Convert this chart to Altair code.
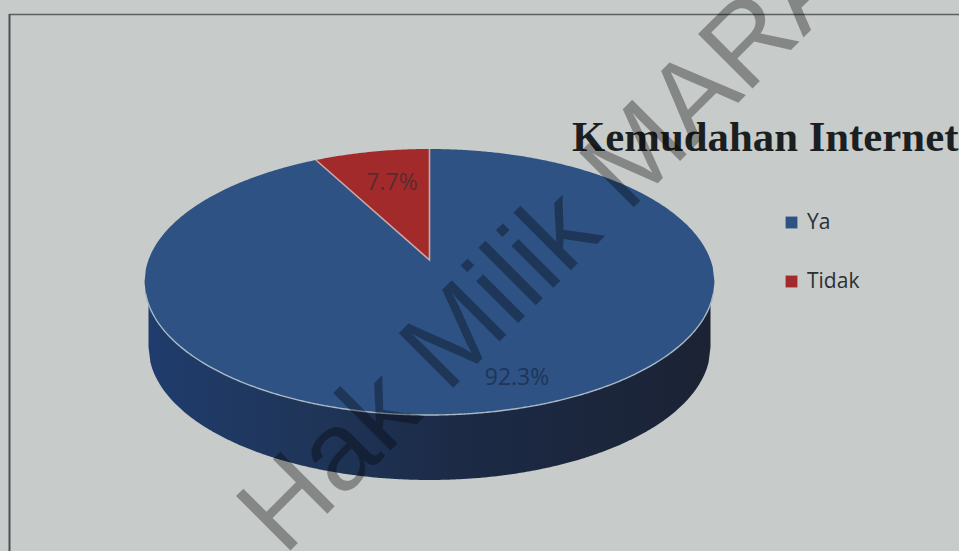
import math
import altair as alt
import numpy as np
import pandas as pd

# Survey result
categories = ["Ya", "Tidak"]
shares = [92.3, 7.7]
slice_colors = ["#2d5283", "#a32a2a"]
chart_title = "Kemudahan Internet"
watermark = "Hak Milik MARA"

W, H = 959, 551
# Top face of the tilted disc, in canvas units
CX, CY, A, B = 429.5, 282.0, 285.0, 133.0
APEX_Y = 260.0          # where the disc's centre lands under perspective
TILT = 0.17             # perspective strength
RADIUS_X = 281.0
# Lower rim of the disc
BOTTOM_CY, BOTTOM_A, BOTTOM_B = 347.0, 281.0, 133.0


def rim(x, cy, a, b, sign):
    return cy + sign * b * np.sqrt(np.clip(1 - ((x - CX) / a) ** 2, 0, 1))


# The red slice runs back from twelve o'clock by its share of the circle
theta = 2 * math.pi * shares[1] / 100
edge_x = CX - RADIUS_X * math.sin(theta) / (1 + TILT * math.cos(theta))
edge_y = float(rim(edge_x, CY, A, B, -1))

left_xs = np.linspace(CX - A, edge_x, 120)
mid_xs = np.linspace(edge_x, CX - 0.01, 10)
right_xs = np.linspace(CX, CX + A, 160)
wedge_xs = np.linspace(edge_x, CX, 40)
spoke = lambda x: edge_y + (APEX_Y - edge_y) * (x - edge_x) / (CX - edge_x)

ya = pd.concat([
    pd.DataFrame({"x": left_xs, "top": rim(left_xs, CY, A, B, -1), "bot": rim(left_xs, CY, A, B, 1)}),
    pd.DataFrame({"x": mid_xs, "top": spoke(mid_xs), "bot": rim(mid_xs, CY, A, B, 1)}),
    pd.DataFrame({"x": right_xs, "top": rim(right_xs, CY, A, B, -1), "bot": rim(right_xs, CY, A, B, 1)}),
]).assign(slice=categories[0])
tidak = pd.DataFrame({
    "x": wedge_xs, "top": rim(wedge_xs, CY, A, B, -1), "bot": spoke(wedge_xs),
}).assign(slice=categories[1])
faces = pd.concat([ya, tidak], ignore_index=True)

side_xs = np.linspace(CX - BOTTOM_A, CX + BOTTOM_A, 300)
side = pd.DataFrame({
    "x": side_xs, "top": CY, "bot": rim(side_xs, BOTTOM_CY, BOTTOM_A, BOTTOM_B, 1),
})

front_xs = np.linspace(CX - A + 1, CX + A - 1, 300)
front_rim = pd.DataFrame({"x": front_xs, "y": rim(front_xs, CY, A, B, 1)})
spokes = pd.DataFrame({
    "x": [edge_x, CX, CX], "y": [edge_y, APEX_Y, rim(CX, CY, A, B, -1)], "seq": [0, 1, 2],
})

x_scale = alt.Scale(domain=[0, W], range=[0, W], nice=False, zero=False)
y_scale = alt.Scale(domain=[0, H], range=[0, H], nice=False, zero=False)
X = alt.X("x:Q", scale=x_scale, axis=None)
Y = alt.Y("top:Q", scale=y_scale, axis=None, stack=None)

side_layer = alt.Chart(side).mark_area(
    color=alt.Gradient(
        gradient="linear", x1=0, x2=1, y1=0, y2=0,
        stops=[
            alt.GradientStop(offset=0, color="#1f3c6c"),
            alt.GradientStop(offset=0.3, color="#1f3558"),
            alt.GradientStop(offset=0.55, color="#1c2a46"),
            alt.GradientStop(offset=1, color="#1b2334"),
        ],
    )
).encode(x=X, y=Y, y2="bot:Q")

face_layer = alt.Chart(faces).mark_area().encode(
    x=X, y=Y, y2="bot:Q",
    color=alt.Color(
        "slice:N",
        scale=alt.Scale(domain=categories, range=slice_colors),
        legend=alt.Legend(
            title=None, orient="none", legendX=781, legendY=212,
            symbolType="square", symbolSize=140, symbolStrokeWidth=0,
            labelFont="Open Sans", labelFontSize=21, labelColor="#2a3034",
            labelOffset=5, rowPadding=37, padding=0,
        ),
    ),
)

rim_layer = alt.Chart(front_rim).mark_line(color="#a9bac6", strokeWidth=1.4).encode(
    x=X, y=alt.Y("y:Q", scale=y_scale, axis=None)
)
spoke_layer = alt.Chart(spokes).mark_line(color="#c9a9a9", strokeWidth=1.6).encode(
    x=X, y=alt.Y("y:Q", scale=y_scale, axis=None), order="seq:Q"
)

# Frame lines along the top and left
frame_top = alt.Chart(pd.DataFrame({"k": [0]})).mark_rule(color="#5a6063", strokeWidth=1.5).encode(
    x=alt.value(9), x2=alt.value(W), y=alt.value(14.5)
)
frame_left = alt.Chart(pd.DataFrame({"k": [0]})).mark_rule(color="#4a5054", strokeWidth=2).encode(
    x=alt.value(9.5), y=alt.value(14), y2=alt.value(H)
)


def text_layer(text, px, py, **style):
    return alt.Chart(pd.DataFrame({"t": [text]})).mark_text(**style).encode(
        x=alt.value(px), y=alt.value(py), text="t:N"
    )


title_layer = text_layer(
    chart_title, 572, 151, font="Liberation Serif", fontWeight="bold", fontSize=42.8,
    color="#1c1f22", align="left", baseline="alphabetic",
)
small_label = dict(font="Open Sans", fontSize=23, align="center", baseline="middle")
pct_tidak = text_layer(f"{shares[1]}%", 392, 183, color="#5a2a30", **small_label)
pct_ya = text_layer(f"{shares[0]}%", 517, 378, color="#20355a", **small_label)
mark_layer = text_layer(
    watermark, 284, 557, font="Liberation Sans", fontSize=112, angle=315,
    color="#000000", opacity=0.33, align="left", baseline="alphabetic",
)

chart = alt.layer(
    frame_top, frame_left, side_layer, face_layer, rim_layer, spoke_layer,
    pct_tidak, pct_ya, title_layer, mark_layer,
).resolve_scale(color="independent").properties(
    width=W, height=H, padding=0, background="#c7cbca",
    autosize=alt.AutoSizeParams(type="none"),
).configure_view(stroke=None)

chart.save("out.html", embed_options={"renderer": "svg", "actions": False})
